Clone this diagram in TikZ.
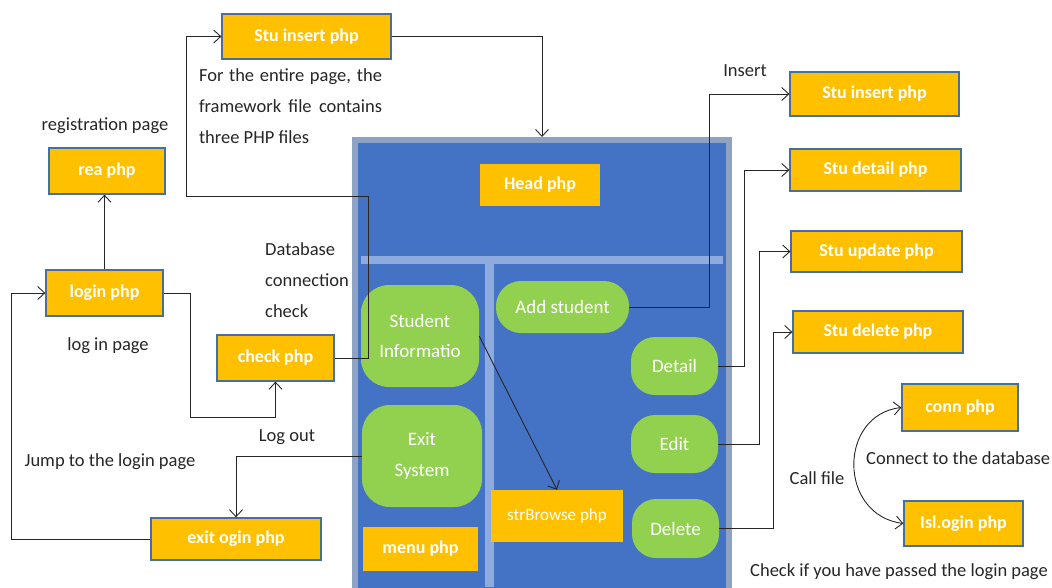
\documentclass[tikz,border=0pt]{standalone}
\usepackage{fontspec}
\setmainfont{Carlito}
\usetikzlibrary{arrows.meta,calc}
\definecolor{boxorange}{HTML}{FFC000}
\definecolor{boxedge}{HTML}{41719C}
\definecolor{panelblue}{HTML}{4472C4}
\definecolor{panelrim}{HTML}{8EA3C4}
\definecolor{divider}{HTML}{8FAADC}
\definecolor{btngreen}{HTML}{92D050}
\definecolor{ink}{HTML}{262626}

\begin{document}
\begin{tikzpicture}[x=1pt,y=-1pt,
  file/.style={draw=boxedge, line width=1.3pt, fill=boxorange, text=white,
    font=\fontsize{18}{21}\selectfont\bfseries, inner sep=0pt},
  innerfile/.style={fill=boxorange, text=white,
    font=\fontsize{18}{21}\selectfont\bfseries, inner sep=0pt},
  button/.style={fill=btngreen, text=white, align=center,
    font=\fontsize{19}{30.5}\selectfont, inner sep=0pt},
  note/.style={text=ink, font=\fontsize{18.5}{31}\selectfont, inner sep=0pt},
  link/.style={draw=ink, line width=0.9pt,
    -{Straight Barb[length=7pt,width=13pt,line width=0.9pt]}},
  barb/.tip={Straight Barb[length=7pt,width=13pt,line width=0.9pt]}
]
\useasboundingbox (0,0) rectangle (1052,587);

% ---------- framework panel ----------
\node[draw=panelrim, line width=6pt, fill=panelblue, minimum width=374pt,
  minimum height=456pt, inner sep=0pt] (frame) at (542,368) {};
\fill[divider] (361,256) rectangle (723,264);
\fill[divider] (485,264) rectangle (494,587);

\node[innerfile, minimum width=120pt, minimum height=42pt] (head) at (540,185) {Head php};
\node[button, rounded corners=28pt, minimum width=118pt, minimum height=102pt]
  (stuinfo) at (420,336) {Student\\Informatio};
\node[button, rounded corners=28pt, minimum width=120pt, minimum height=102pt]
  (exitsys) at (422,456) {Exit\\System};
\node[innerfile, minimum width=115pt, minimum height=44pt] (menu) at (420.5,549) {menu php};
\node[button, rounded corners=25pt, minimum width=133pt, minimum height=52pt]
  (addstu) at (562.5,307) {Add student};
\node[button, rounded corners=24pt, minimum width=87pt, minimum height=58pt]
  (detail) at (674.5,366) {Detail};
\node[button, rounded corners=24pt, minimum width=87pt, minimum height=58pt]
  (edit) at (674.5,444) {Edit};
\node[button, rounded corners=24pt, minimum width=87pt, minimum height=59pt]
  (delete) at (675.5,528.5) {Delete};
\node[innerfile, font=\fontsize{17}{20}\selectfont, minimum width=132pt, minimum height=52pt]
  (browse) at (557,516) {strBrowse php};

% ---------- files around the panel ----------
\node[file, minimum width=169pt, minimum height=45pt] (stutop) at (306.5,36.5) {Stu insert php};
\node[file, minimum width=116pt, minimum height=46pt] (rea) at (107,171) {rea php};
\node[file, minimum width=117pt, minimum height=46pt] (login) at (104.5,293) {login php};
\node[file, minimum width=117pt, minimum height=46pt] (check) at (275.5,358) {check php};
\node[file, minimum width=170pt, minimum height=42pt] (exitlogin) at (236,539) {exit ogin php};

\node[file, minimum width=169pt, minimum height=44pt] (stuins) at (874.5,94) {Stu insert php};
\node[file, minimum width=171pt, minimum height=42pt] (studet) at (875.5,170) {Stu detail php};
\node[file, minimum width=171pt, minimum height=41pt] (stuupd) at (876.5,251.5) {Stu update php};
\node[file, minimum width=170pt, minimum height=42pt] (studel) at (878,332) {Stu delete php};
\node[file, minimum width=116pt, minimum height=47pt] (conn) at (960,407.5) {conn php};
\node[file, minimum width=119pt, minimum height=45pt] (isl) at (963.5,523.5) {Isl.ogin php};

% ---------- notes ----------
\node[note, text width=183pt, align=justify] (framenote) at (290.5,106)
  {For the entire page, the\linebreak framework file contains\linebreak three PHP files};
\node[note] (regnote) at (105,126) {registration page};
\node[note, align=left, anchor=west] (dbnote) at (265,280) {Database\\connection\\check};
\node[note] (loginnote) at (108,346) {log in page};
\node[note] (logoutnote) at (287,437) {Log out};
\node[note] (jumpnote) at (110,462) {Jump to the login page};
\node[note] (insertnote) at (745,71) {Insert};
\node[note, anchor=west] (connnote) at (866,458) {Connect to the database};
\node[note] (callnote) at (817,478) {Call file};
\node[note, anchor=west] (checknote) at (750,572) {Check if you have passed the login page};

% ---------- connectors ----------
\draw[link] (login.east) -- ++(27,0) |- ([yshift=-36pt]check.south) -- (check.south);
\draw[link] (login.north) -- (login.north |- rea.south);
\draw[link] (check.east) -- ++(34,0) |- ([xshift=-35pt,yshift=-159.5pt]stutop.west)
  -- ([xshift=-35pt]stutop.west) -- (stutop.west);
\draw[link] (stutop.east) -| (frame.north);
\draw[link] (stuinfo.east) -- (browse.north);
\draw[link] (exitsys.west) -| (exitlogin.north);
\draw[link] (exitlogin.west) -| ([xshift=-34pt]login.west) -- (login.west);
\draw[link] (addstu.east) -| ([xshift=-80pt]stuins.west) -- (stuins.west);
\draw[link] (detail.east) -| ([xshift=-45pt]studet.west) -- (studet.west);
\draw[link] (edit.east) -| ([xshift=-31pt]stuupd.west) -- (stuupd.west);
\draw[link] (delete.east) -| ([xshift=-19pt]studel.west) -- (studel.west);
\draw[draw=ink, line width=0.9pt, barb-barb]
  (conn.west) .. controls (838,415) and (838,515) .. (isl.west);
\end{tikzpicture}
\end{document}
